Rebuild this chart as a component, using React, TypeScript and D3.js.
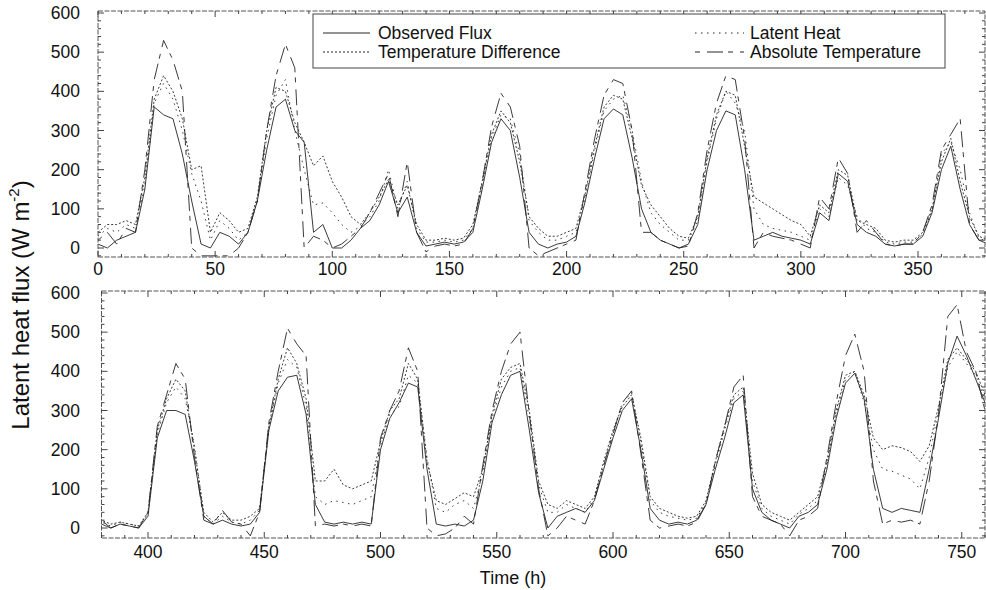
import React from 'react';
import * as d3 from 'd3';

// sampling grid (hours)
const hours = d3.range(0, 761, 4);

const observed = [
  10, 0, 20, 30, 40, 150, 360, 340, 330, 240,
  120, 10, 0, 40, 30, 10, 40, 120, 250, 360,
  380, 300, 270, 40, 60, 0, 0, 20, 50, 70,
  110, 170, 90, 130, 40, 5, 10, 15, 10, 15,
  40, 150, 270, 330, 300, 180, 40, 10, 0, 10,
  15, 30, 120, 230, 330, 355, 340, 230, 100, 40,
  20, 10, 0, 10, 60, 200, 300, 350, 340, 200,
  20, 30, 40, 30, 25, 20, 10, 90, 70, 190,
  170, 60, 40, 30, 10, 5, 10, 10, 30, 90,
  200, 260, 150, 60, 20,
  10, 0, 10, 5, 0, 30, 230, 300, 300, 290,
  170, 30, 10, 20, 10, 5, 10, 40, 250, 350,
  385, 390, 290, 60, 15, 10, 15, 10, 15, 10,
  200, 280, 320, 370, 360, 150, 10, 5, 10, 5,
  20, 120, 270, 340, 390, 400, 250, 90, 0, 30,
  40, 50, 40, 70, 150, 230, 300, 330, 200, 50,
  20, 10, 15, 10, 20, 60, 150, 230, 320, 340,
  100, 40, 20, 10, 0, 30, 40, 60, 150, 280,
  370, 395, 330, 150, 50, 40, 50, 45, 40, 150,
  280, 420, 490, 440, 380, 320,
];

const tempDiff = [
  40, 60, 60, 70, 60, 180, 380, 440, 400, 330,
  200, 210, 40, 90, 70, 40, 50, 130, 300, 410,
  400, 320, 270, 210, 235, 170, 130, 80, 60, 90,
  130, 175, 110, 160, 60, 20, 20, 25, 20, 25,
  60, 170, 290, 350, 320, 220, 80, 50, 30, 30,
  40, 50, 140, 260, 360, 390, 380, 280, 160, 110,
  80, 50, 30, 25, 80, 230, 340, 400, 390, 260,
  130, 115, 100, 85, 70, 60, 30, 110, 90, 200,
  185, 70, 60, 50, 20, 15, 20, 20, 40, 100,
  220, 280, 170, 80, 30,
  20, 10, 15, 10, 5, 40, 250, 330, 380, 350,
  200, 40, 15, 40, 20, 20, 30, 50, 260, 380,
  460, 420, 330, 120, 120, 150, 110, 100, 110, 120,
  220, 300, 330, 420, 380, 170, 70, 60, 75, 90,
  80, 150, 290, 380, 410, 420, 300, 120, 60, 50,
  70, 60, 50, 80, 170, 250, 310, 340, 230, 80,
  50, 40, 30, 25, 30, 70, 170, 260, 340, 360,
  140, 60, 40, 30, 20, 40, 60, 80, 170, 300,
  390, 400, 340, 230, 200, 210, 205, 195, 170, 210,
  310, 430, 460, 430, 400, 340,
];

const latentHeat = [
  30, 50, 40, 60, 50, 160, 370, 420, 380, 300,
  190, 120, 20, 70, 50, 20, 40, 120, 280, 390,
  430, 300, 200, 110, 115, 90, 60, 40, 55, 80,
  120, 200, 100, 170, 50, 15, 15, 20, 15, 20,
  50, 160, 280, 340, 330, 240, 70, 40, 20, 20,
  30, 40, 130, 250, 350, 380, 390, 300, 170, 90,
  60, 40, 20, 20, 70, 220, 330, 400, 370, 300,
  100, 60, 50, 45, 40, 30, 20, 100, 80, 180,
  160, 80, 50, 40, 15, 10, 15, 15, 35, 95,
  240, 270, 200, 90, 25,
  15, 5, 15, 10, 5, 35, 240, 320, 360, 330,
  210, 30, 10, 30, 15, 10, 20, 45, 255, 370,
  430, 410, 310, 80, 60, 70, 65, 60, 70, 80,
  210, 290, 310, 390, 370, 180, 50, 40, 60, 70,
  50, 140, 280, 360, 400, 410, 280, 110, 40, 40,
  60, 50, 40, 75, 160, 240, 320, 345, 220, 70,
  40, 30, 25, 20, 25, 65, 160, 250, 330, 350,
  120, 50, 30, 20, 10, 35, 50, 70, 160, 290,
  380, 400, 320, 200, 150, 145, 135, 125, 100, 180,
  300, 410, 450, 420, 390, 330,
];

const absTemp = [
  20, 40, 10, 50, 40, 200, 430, 530, 480, 400,
  0, -20, -20, -20, -20, 0, 40, 120, 300, 440,
  520, 460, 0, 30, 20, 0, 10, 30, 50, 90,
  140, 190, 80, 220, 40, -10, 5, 10, 5, 10,
  50, 170, 310, 395, 360, 260, 0, -20, -10, 0,
  10, 20, 150, 280, 390, 430, 420, 300, 40, 40,
  20, 10, 0, 5, 90, 250, 370, 440, 430, 280,
  0, 40, 30, 25, 20, 10, 0, 130, 100, 230,
  190, 40, 70, 40, 10, 5, 10, 10, 40, 110,
  250, 290, 330, 60, 20,
  20, 0, 10, 5, 0, 40, 260, 340, 420, 380,
  180, 20, 10, 45, 15, 10, -20, 40, 270, 400,
  510, 470, 440, 5, 10, 5, 10, 5, 10, 5,
  230, 300, 350, 460, 400, 0, -20, -15, 0, 30,
  10, 160, 300, 400, 470, 500, 290, 100, -20, 0,
  30, 20, 10, 70, 160, 240, 320, 350, 190, 20,
  0, 5, 10, 5, 15, 60, 170, 260, 360, 390,
  80, 30, 20, 10, -20, 20, 30, 50, 180, 320,
  440, 495, 400, 120, 10, 20, 15, 20, 10, 120,
  290, 540, 570, 450, 400, 300,
];

const topXTicks = [0, 50, 100, 150, 200, 250, 300, 350];
const bottomXTicks = [400, 450, 500, 550, 600, 650, 700, 750];
const yTicks = [0, 100, 200, 300, 400, 500, 600];
const seriesNames = ['Observed Flux', 'Temperature Difference', 'Latent Heat', 'Absolute Temperature'];

const FONT = '"Liberation Sans", Arial, Helvetica, sans-serif';
const W = 986;
const H = 590;
const LINE = '#262626';
const dashes = [null, '2,2', '1.5,4.5', '5,7,16,5'];

const panels = [
  { id: 'p0', xDomain: [0, 378.6], xRange: [98, 985], top: 11, bottom: 257, zeroY: 248, sixY: 13, ticks: topXTicks, labelY: 275, tMin: 0, tMax: 380 },
  { id: 'p1', xDomain: [380, 760], xRange: [101.5, 985], top: 291, bottom: 538, zeroY: 528, sixY: 293, ticks: bottomXTicks, labelY: 558, tMin: 376, tMax: 760 },
];

const allSeries = [observed, tempDiff, latentHeat, absTemp];

function Panel({ p }: { p: any }) {
  const x = d3.scaleLinear().domain(p.xDomain).range(p.xRange);
  const y = d3.scaleLinear().domain([0, 600]).range([p.zeroY, p.sixY]);
  const left = p.xRange[0];
  const right = p.xRange[1];
  const idx = hours.map((h, i) => i).filter((i) => hours[i] >= p.tMin && hours[i] <= p.tMax);
  const minorX = d3.range(Math.ceil(p.xDomain[0] / 10) * 10, p.xDomain[1] + 0.01, 10);
  const minorY = d3.range(-20, 601, 20).filter((v) => y(v) <= p.bottom && y(v) >= p.top);
  return (
    <g>
      <defs>
        <clipPath id={'clip' + p.id}>
          <rect x={left} y={p.top} width={right - left} height={p.bottom - p.top} />
        </clipPath>
      </defs>
      <g clipPath={`url(#clip${p.id})`}>
        {allSeries.map((s, k) => {
          const gen = d3
            .line<number>()
            .x((i) => x(hours[i]))
            .y((i) => y(s[i]));
          return (
            <path
              key={k}
              d={gen(idx) || ''}
              fill="none"
              stroke={LINE}
              strokeWidth={1}
              strokeOpacity={0.9}
              strokeDasharray={dashes[k] || undefined}
            />
          );
        })}
      </g>
      <rect x={left} y={p.top} width={right - left} height={p.bottom - p.top} fill="none" stroke="#555" strokeWidth={1} strokeDasharray="5,1.5" />
      {minorX.map((v) => {
        const major = v % 50 === 0;
        const len = major ? 6 : 3;
        return (
          <g key={'mx' + v}>
            <line x1={x(v)} x2={x(v)} y1={p.bottom} y2={p.bottom - len} stroke="#444" />
            <line x1={x(v)} x2={x(v)} y1={p.top} y2={p.top + len} stroke="#444" />
          </g>
        );
      })}
      {minorY.map((v) => {
        const major = v % 100 === 0;
        const len = major ? 6 : 3;
        return (
          <g key={'my' + v}>
            <line x1={left} x2={left + len} y1={y(v)} y2={y(v)} stroke="#444" />
            <line x1={right} x2={right - len} y1={y(v)} y2={y(v)} stroke="#444" />
          </g>
        );
      })}
      {p.ticks.map((v: number) => (
        <text key={'xt' + v} x={x(v)} y={p.labelY} textAnchor="middle" fontSize={17.5} fontFamily={FONT} fill="#111">
          {v}
        </text>
      ))}
      {yTicks.map((v) => (
        <text key={'yt' + v} x={80} y={y(v) + 6} textAnchor="end" fontSize={17.5} fontFamily={FONT} fill="#111">
          {v}
        </text>
      ))}
    </g>
  );
}

function Legend() {
  const entries = [
    { x1: 323, x2: 370, tx: 378, y: 33 },
    { x1: 323, x2: 370, tx: 378, y: 52 },
    { x1: 695, x2: 744, tx: 750, y: 33 },
    { x1: 695, x2: 744, tx: 750, y: 52 },
  ];
  return (
    <g>
      <rect x={313} y={14} width={632} height={54} fill="#fff" stroke="#444" strokeWidth={1} />
      {entries.map((e, k) => (
        <g key={k}>
          <line x1={e.x1} x2={e.x2} y1={e.y} y2={e.y} stroke={LINE} strokeWidth={1} strokeDasharray={dashes[k] || undefined} />
          <text x={e.tx} y={e.y + 6} fontSize={17.5} fontFamily={FONT} fill="#111">
            {seriesNames[k]}
          </text>
        </g>
      ))}
    </g>
  );
}

export default function App() {
  return (
    <div style={{ position: 'absolute', left: 0, top: 0 }}>
      <svg width={W} height={H} style={{ display: 'block', background: '#fff' }}>
        {panels.map((p) => (
          <Panel key={p.id} p={p} />
        ))}
        <Legend />
        <text transform="translate(29,305) rotate(-90)" textAnchor="middle" fontSize={24} fontFamily={FONT} fill="#111">
          Latent heat flux (W m
          <tspan fontSize={15} dy={-10}>-2</tspan>
          <tspan dy={10}>)</tspan>
        </text>
        <text x={513} y={584} textAnchor="middle" fontSize={18} fontFamily={FONT} fill="#111">
          Time (h)
        </text>
      </svg>
    </div>
  );
}
